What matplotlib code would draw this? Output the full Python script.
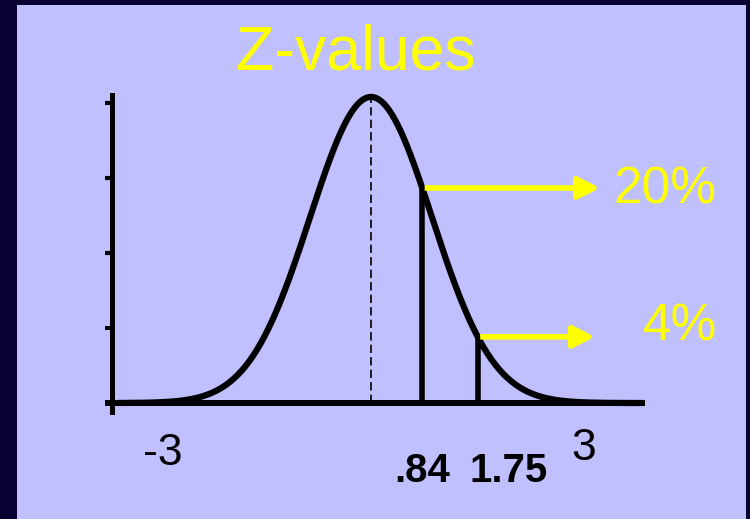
import numpy as np
import matplotlib
matplotlib.use("Agg")
import matplotlib.pyplot as plt
from matplotlib.patches import Rectangle

plt.rcParams['font.family'] = ['Liberation Sans', 'DejaVu Sans']

# z cut-offs and the tail areas beyond them
cutoffs = [0.84, 1.75]
cutoff_labels = ['.84', '1.75']
tail_labels = ['20%', '4%']
end_labels = ['-3', '3']
y_ticks = [0, 0.098, 0.196, 0.293, 0.391]

border = '#080030'
panel = '#C0C0FF'
yellow = '#FFFF00'

z = np.linspace(-4.1, 4.4, 400)
pdf = np.exp(-z ** 2 / 2) / np.sqrt(2 * np.pi)

def density(v):
    return np.exp(-v ** 2 / 2) / np.sqrt(2 * np.pi)

fig = plt.figure(figsize=(7.5, 5.19), dpi=100, facecolor=border)
fig.patches.append(Rectangle((17 / 750, 0), 729 / 750, 514 / 519,
                             transform=fig.transFigure, facecolor=panel,
                             edgecolor='none', zorder=-10))

ax = fig.add_axes([112 / 750, 107 / 519, 533 / 750, 317 / 519])
ax.set_facecolor('none')
ax.set_xlim(-4.246, 4.492)
ax.set_ylim(-0.0117, 0.4015)
for s in ['top', 'right', 'bottom']:
    ax.spines[s].set_visible(False)
ax.spines['left'].set_linewidth(3.6)
ax.spines['left'].set_color('black')
ax.set_xticks([])
ax.set_yticks(y_ticks)
ax.set_yticklabels([])
ax.tick_params(axis='y', direction='out', length=5, width=3, color='black')

# baseline
ax.plot([-4.36, 4.49], [0, 0], color='black', lw=4.3, clip_on=False,
        solid_capstyle='butt')

# normal curve
ax.plot(z, pdf, color='black', lw=4.5, clip_on=False)

# mean line
ax.plot([0, 0], [0, density(0)], color='black', lw=1.2,
        linestyle=(0, (5, 2.5)))

# cut-off lines with arrows to the tail areas
arrow_tips = [3.754, 3.67]
for c, tip in zip(cutoffs, arrow_tips):
    h = density(c)
    ax.plot([c, c], [0, h], color='black', lw=4, solid_capstyle='butt')
    ax.annotate('', xy=(tip, h), xytext=(c + 0.04, h),
                arrowprops=dict(arrowstyle='-|>,head_length=0.65,head_width=0.33',
                                color=yellow, lw=4, mutation_scale=20,
                                capstyle='butt', shrinkA=0, shrinkB=0))

ax.text(3.967, 0.2607, tail_labels[0], color=yellow, fontsize=37,
        ha='left', va='baseline')
ax.text(4.459, 0.0821, tail_labels[1], color=yellow, fontsize=37,
        ha='left', va='baseline')

# axis end labels
ax.text(-3.41, -0.0808, end_labels[0], fontsize=32, ha='center',
        va='baseline', clip_on=False)
ax.text(3.49, -0.0743, end_labels[1], fontsize=32, ha='center',
        va='baseline', clip_on=False)

# cut-off values
ax.text(cutoffs[0], -0.103, cutoff_labels[0], fontsize=29,
        fontweight='bold', ha='center', va='baseline')
ax.text(1.62, -0.103, cutoff_labels[1], fontsize=29,
        fontweight='bold', ha='left', va='baseline')

fig.text(356 / 750, 1 - 70 / 519, 'Z-values', color=yellow, fontsize=45,
         ha='center', va='baseline')

fig.savefig('out.png', dpi=100, facecolor=border)
